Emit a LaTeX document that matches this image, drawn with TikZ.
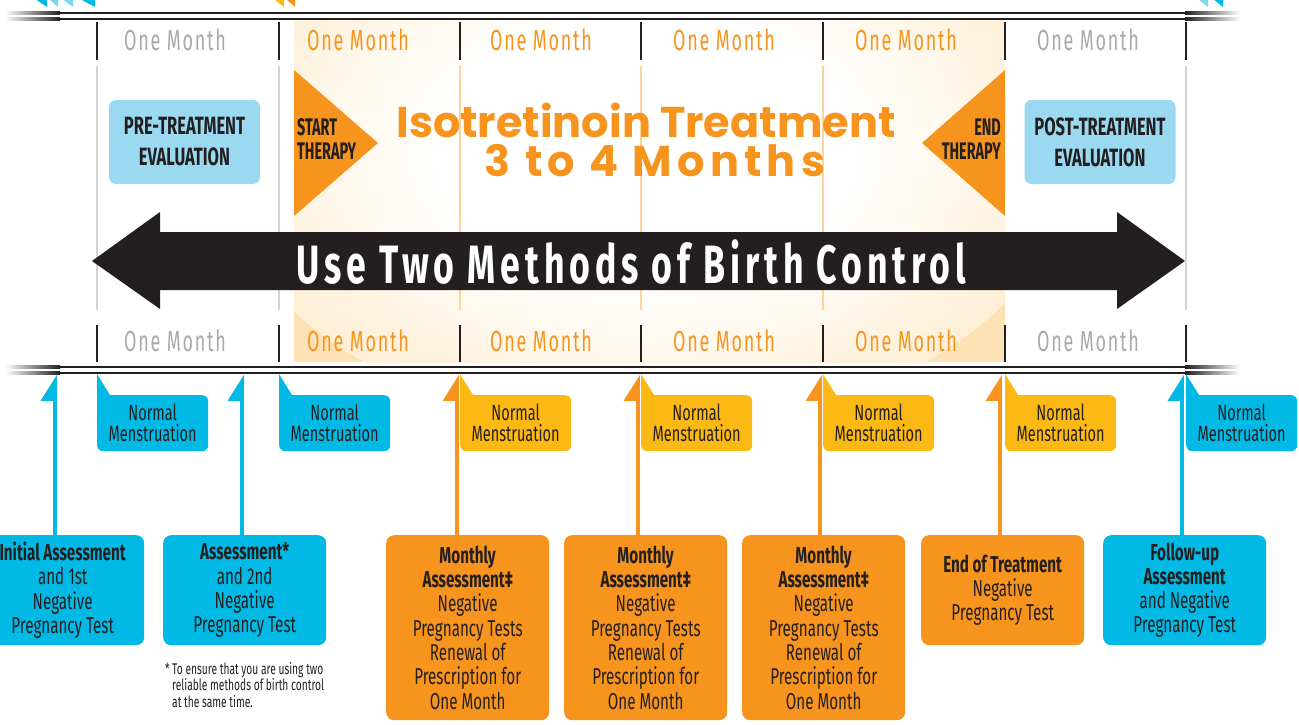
\documentclass[tikz,border=0pt]{standalone}
\usepackage{fontspec}
\setmainfont{Fira Sans}
\newfontfamily\cnd[FakeStretch=0.66]{Fira Sans}
\newfontfamily\cndb[FakeStretch=0.6]{Fira Sans}
\newfontfamily\cndh[FakeStretch=0.66]{Fira Sans}
\newfontfamily\spc[FakeStretch=0.62,LetterSpace=6]{Fira Sans}
\newfontfamily\ubc[FakeStretch=0.66,LetterSpace=9]{Fira Sans}
\newfontfamily\pop{Poppins}
\newfontfamily\popsp[LetterSpace=12]{Poppins}
\usetikzlibrary{arrows.meta,shadings}
\definecolor{orng}{HTML}{F7941D}
\definecolor{yel}{HTML}{FDB913}
\definecolor{cyn}{HTML}{00B9E4}
\definecolor{lcyn}{HTML}{7FD4F0}
\definecolor{lblue}{HTML}{9BD9F1}
\definecolor{ink}{HTML}{231F20}
\definecolor{gtxt}{HTML}{A7A9AC}
\definecolor{obg}{HTML}{FDE2B5}
\definecolor{oline}{HTML}{FDD49A}
\definecolor{gline}{HTML}{D1D3D4}
\pgfdeclareradialshading{glow}{\pgfpointorigin}{color(0bp)=(white); color(12bp)=(white); color(35bp)=(obg); color(50bp)=(obg)}
\newcommand\fadeline[1]{%
  \shade[left color=white, right color=ink] (5,#1-1.2) rectangle (60,#1+1.2);
  \fill[ink] (60,#1-1.2) rectangle (1185,#1+1.2);
  \shade[left color=ink, right color=white] (1185,#1-1.2) rectangle (1240,#1+1.2);
}
\tikzset{
  month/.style={font={\spc\fontsize{29}{29}\selectfont}, inner sep=0pt},
  evalbox/.style={fill=lblue, rounded corners=7pt, minimum width=151pt, minimum height=84pt, align=center, text=ink, font={\cndh\bfseries\fontsize{25}{31}\selectfont}, inner sep=0pt},
  therapy/.style={text=ink, font={\cndb\bfseries\fontsize{24}{24}\selectfont}, inner sep=0pt},
  callout/.style={rounded corners=6pt, minimum width=111pt, minimum height=56pt, anchor=north west, align=center, text=ink, font={\cnd\fontsize{22}{21}\selectfont}, inner sep=0pt},
  infobox/.style={rounded corners=8pt, minimum width=163pt, anchor=north west, align=center, text=ink, font={\cnd\fontsize{23}{24.3}\selectfont}, inner sep=0pt},
  uparr/.style={line width=3.5pt, -{Triangle[left, length=23pt, width=28pt]}},
}
\begin{document}
\begin{tikzpicture}[x=1pt,y=-1pt]
\useasboundingbox (0,0) rectangle (1299,725);
\fill[white] (0,0) rectangle (1299,725);
% treatment background
\begin{scope}
  \clip (294,20) rectangle (1005,362);
  \fill[obg] (294,20) rectangle (1005,362);
  \shade[shading=glow] (645,150) ellipse (430 and 280);
\end{scope}
% small tips at the top edge
\fill[cyn] (35,-1) -- (47,-1) -- (47,7) -- cycle;
\fill[lcyn] (49,-1) -- (58,-1) -- (58,7) -- cycle;
\fill[lcyn] (62,-1) -- (73,-1) -- (73,7) -- cycle;
\fill[cyn] (80,-1) -- (95,-1) -- (95,7) -- cycle;
\fill[yel] (274,-1) -- (284,-1) -- (284,7) -- cycle;
\fill[orng] (286,-1) -- (295,-1) -- (295,7) -- cycle;
\fill[lcyn] (1198,-1) -- (1208,-1) -- (1208,7) -- cycle;
\fill[cyn] (1213,-1) -- (1223,-1) -- (1223,7) -- cycle;
% double rules
\fadeline{13}
\fadeline{19}
\fadeline{367}
\fadeline{373}
% light column lines
\foreach \x in {97,279,1186} \draw[gline, line width=1.5pt] (\x,66) -- (\x,310);
\foreach \x in {460,641,823} \draw[oline, line width=1.5pt] (\x,66) -- (\x,310);
% ticks
\foreach \x in {97,279,460,641,823,1005,1186} {
  \draw[ink, line width=2.2pt] (\x,22) -- (\x,60);
  \draw[ink, line width=2.2pt] (\x,325) -- (\x,362);
}
% month labels
\node[month, text=gtxt] (tm1) at (175,40) {One Month};
\node[month, text=orng] (tm2) at (358,40) {One Month};
\node[month, text=orng] (tm3) at (541,40) {One Month};
\node[month, text=orng] (tm4) at (724,40) {One Month};
\node[month, text=orng] (tm5) at (906,40) {One Month};
\node[month, text=gtxt] (tm6) at (1088,40) {One Month};
\node[month, text=gtxt] (bm1) at (175,341) {One Month};
\node[month, text=orng] (bm2) at (358,341) {One Month};
\node[month, text=orng] (bm3) at (541,341) {One Month};
\node[month, text=orng] (bm4) at (724,341) {One Month};
\node[month, text=orng] (bm5) at (906,341) {One Month};
\node[month, text=gtxt] (bm6) at (1088,341) {One Month};
% evaluation boxes
\node[evalbox] (pre) at (184.5,142) {PRE-TREATMENT\\EVALUATION};
\node[evalbox] (post) at (1100,142) {POST-TREATMENT\\EVALUATION};
% therapy triangles
\fill[orng] (294,70) -- (378,143) -- (294,216) -- cycle;
\fill[orng] (1005,70) -- (922,143) -- (1005,216) -- cycle;
\node[therapy, anchor=west, align=left] (start) at (297,139) {START\\THERAPY};
\node[therapy, anchor=east, align=right] (end) at (1001,139) {END\\THERAPY};
% title
\node[text=orng, inner sep=0pt, font={\pop\bfseries\fontsize{43}{43}\selectfont}] (iso) at (646,120) {Isotretinoin Treatment};
\node[text=orng, inner sep=0pt, font={\popsp\bfseries\fontsize{43}{43}\selectfont}] (dur) at (655,161) {3 to 4 Months};
% birth control arrow
\fill[ink] (92,261) -- (160,212) -- (160,232) -- (1117,232) -- (1117,212) -- (1185,261) -- (1117,309) -- (1117,290) -- (160,290) -- (160,309) -- cycle;
\node[text=white, inner sep=0pt, font={\ubc\bfseries\fontsize{54}{54}\selectfont}] (bc) at (631,262) {Use Two Methods of Birth Control};
% menstruation callouts
\foreach \i/\x/\c in {1/97/cyn, 2/279/cyn, 3/460/yel, 4/641/yel, 5/823/yel, 6/1005/yel, 7/1186/cyn} {
  \node[callout, fill=\c] (n\i) at (\x,395) {Normal\\Menstruation};
  \fill[\c] ([yshift=21pt]n\i.north west) -- ([xshift=13pt]n\i.north west) -- ([yshift=-8pt]n\i.north west) -- cycle;
}
% assessment boxes
\node[infobox, fill=cyn, minimum height=110pt] (b1) at (-19,535) {\textbf{Initial Assessment}\\and 1st\\Negative\\Pregnancy Test};
\node[infobox, fill=cyn, minimum height=110pt] (b2) at (163,535) {\textbf{Assessment*}\\and 2nd\\Negative\\Pregnancy Test};
\node[infobox, fill=orng, minimum height=185pt] (b3) at (386,535) {\textbf{Monthly}\\\textbf{Assessment‡}\\Negative\\Pregnancy Tests\\Renewal of\\Prescription for\\One Month};
\node[infobox, fill=orng, minimum height=185pt] (b4) at (564,535) {\textbf{Monthly}\\\textbf{Assessment‡}\\Negative\\Pregnancy Tests\\Renewal of\\Prescription for\\One Month};
\node[infobox, fill=orng, minimum height=185pt] (b5) at (742,535) {\textbf{Monthly}\\\textbf{Assessment‡}\\Negative\\Pregnancy Tests\\Renewal of\\Prescription for\\One Month};
\node[infobox, fill=orng, minimum height=110pt] (b6) at (921,535) {\textbf{End of Treatment}\\Negative\\Pregnancy Test};
\node[infobox, fill=cyn, minimum height=110pt] (b7) at (1103,535) {\textbf{Follow-up}\\\textbf{Assessment}\\and Negative\\Pregnancy Test};
% footnote
\node[anchor=north west, align=left, inner sep=0pt, text=ink, font={\cnd\fontsize{15.5}{16.5}\selectfont}] (fn) at (172,662) {\llap{*\,}To ensure that you are using two\\reliable methods of birth control\\at the same time.};
% arrows to the time line
\coordinate (t1) at (55,375);
\coordinate (t2) at (242,375);
\coordinate (t3) at (457,375);
\coordinate (t4) at (638,375);
\coordinate (t5) at (820,375);
\coordinate (t6) at (1000,375);
\coordinate (t7) at (1182,375);
\draw[uparr, cyn] (b1.north -| t1) -- (t1);
\draw[uparr, cyn] (b2.north -| t2) -- (t2);
\draw[uparr, orng] (b3.north -| t3) -- (t3);
\draw[uparr, orng] (b4.north -| t4) -- (t4);
\draw[uparr, orng] (b5.north -| t5) -- (t5);
\draw[uparr, orng] (b6.north -| t6) -- (t6);
\draw[uparr, cyn] (b7.north -| t7) -- (t7);
\end{tikzpicture}
\end{document}
